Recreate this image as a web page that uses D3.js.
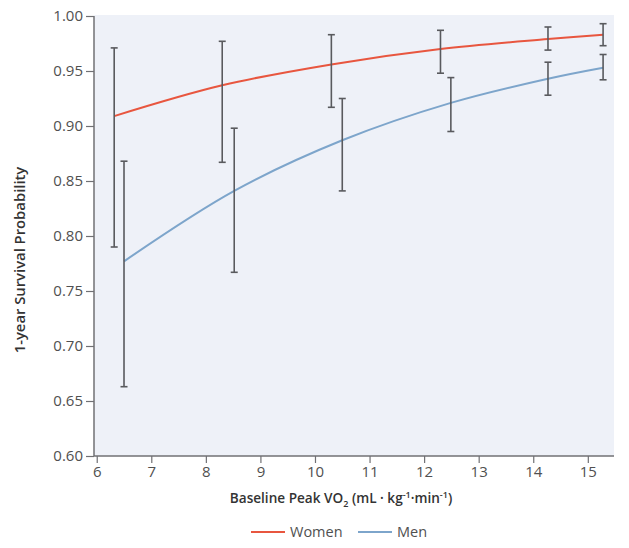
<!DOCTYPE html>
<html>
<head>
<meta charset="utf-8">
<script src="https://cdn.jsdelivr.net/npm/d3@7"></script>
<style>
body{margin:0;background:#fff;}
svg text{font-family:"Open Sans","Noto Sans",sans-serif;}
</style>
</head>
<body>
<svg id="chart" width="629" height="548"></svg>
<script>
// Data
const seriesNames = ["Women", "Men"];
const womenX = [6.32, 8.30, 10.30, 12.30, 14.27, 15.28];
const womenY = [0.909, 0.937, 0.956, 0.970, 0.979, 0.983];
const womenLo = [0.790, 0.867, 0.917, 0.948, 0.969, 0.973];
const womenHi = [0.971, 0.977, 0.983, 0.987, 0.990, 0.993];
const menX = [6.50, 8.52, 10.50, 12.49, 14.27, 15.28];
const menY = [0.777, 0.841, 0.887, 0.921, 0.943, 0.953];
const menLo = [0.663, 0.767, 0.841, 0.895, 0.928, 0.942];
const menHi = [0.868, 0.898, 0.925, 0.944, 0.958, 0.965];
const xTicks = [6, 7, 8, 9, 10, 11, 12, 13, 14, 15];
const yTicks = [0.60, 0.65, 0.70, 0.75, 0.80, 0.85, 0.90, 0.95, 1.00];
const colors = ["#e8563f", "#7da5cb"];

const svg = d3.select("#chart");
const L = 94, R = 614, T = 16, B = 456;
const x = d3.scaleLinear().domain([5.95, 15.48]).range([L, R]);
const y = d3.scaleLinear().domain([0.60, 1.00]).range([B, T]);

svg.append("rect").attr("x", L).attr("y", T - 1).attr("width", R - L).attr("height", B - T + 1)
  .attr("fill", "#eef1f8");

const series = [
  {name: seriesNames[0], xs: womenX, ys: womenY, lo: womenLo, hi: womenHi, color: colors[0]},
  {name: seriesNames[1], xs: menX, ys: menY, lo: menLo, hi: menHi, color: colors[1]}
];

const line = d3.line().x(d => x(d[0])).y(d => y(d[1])).curve(d3.curveCatmullRom.alpha(0.5));

series.forEach(s => {
  const pts = s.xs.map((v, i) => [v, s.ys[i]]);
  svg.append("path").attr("d", line(pts)).attr("fill", "none")
    .attr("stroke", s.color).attr("stroke-width", 2);
});

series.forEach(s => {
  const g = svg.append("g").attr("stroke", "#595a5e").attr("stroke-width", 1.6);
  s.xs.forEach((v, i) => {
    const cx = x(v);
    g.append("line").attr("x1", cx).attr("x2", cx).attr("y1", y(s.lo[i])).attr("y2", y(s.hi[i]));
    g.append("line").attr("x1", cx - 3.5).attr("x2", cx + 3.5).attr("y1", y(s.lo[i])).attr("y2", y(s.lo[i]));
    g.append("line").attr("x1", cx - 3.5).attr("x2", cx + 3.5).attr("y1", y(s.hi[i])).attr("y2", y(s.hi[i]));
  });
});

// Axes
const yAxis = d3.axisLeft(y).tickValues(yTicks).tickFormat(d3.format(".2f")).tickSize(8).tickPadding(3).tickSizeOuter(0);
const gy = svg.append("g").attr("transform", `translate(${L},0)`).call(yAxis);
const xAxis = d3.axisBottom(x).tickValues(xTicks).tickFormat(d3.format("d")).tickSize(7).tickPadding(3).tickSizeOuter(0);
const gx = svg.append("g").attr("transform", `translate(0,${B})`).call(xAxis);
[gx, gy].forEach(g => {
  g.select(".domain").attr("stroke", "#707074").attr("stroke-width", 1.5);
  g.selectAll(".tick line").attr("stroke", "#707074").attr("stroke-width", 1.2);
  g.selectAll(".tick text").attr("fill", "#505050").style("font-size", "15px").style("font-family", '"Open Sans",sans-serif');
});
gx.select(".domain").attr("d", `M${L},0H${R}`);
gy.select(".domain").attr("d", `M0,${B}V${T}`);

// Axis titles
const xt = svg.append("text").attr("x", 341).attr("y", 503).attr("text-anchor", "middle")
  .attr("fill", "#333").style("font-size", "13.6px").style("font-weight", "600");
xt.append("tspan").text("Baseline Peak VO");
xt.append("tspan").text("2").attr("dy", 4).style("font-size", "9px");
xt.append("tspan").text(" (mL · kg").attr("dy", -4);
xt.append("tspan").text("-1").attr("dy", -5).style("font-size", "9px");
xt.append("tspan").text("·min").attr("dy", 5);
xt.append("tspan").text("-1").attr("dy", -5).style("font-size", "9px");
xt.append("tspan").text(")").attr("dy", 5);

svg.append("text").attr("transform", "translate(25,260) rotate(-90)").attr("text-anchor", "middle")
  .attr("fill", "#333").style("font-size", "14.8px").style("font-weight", "600")
  .text("1-year Survival Probability");

// Legend
const legX = [251, 358];
series.forEach((s, i) => {
  svg.append("line").attr("x1", legX[i]).attr("x2", legX[i] + 34).attr("y1", 532).attr("y2", 532)
    .attr("stroke", s.color).attr("stroke-width", 2);
  svg.append("text").attr("x", legX[i] + 39).attr("y", 537).attr("fill", "#505050")
    .style("font-size", "14.5px").text(s.name);
});
</script>
</body>
</html>
